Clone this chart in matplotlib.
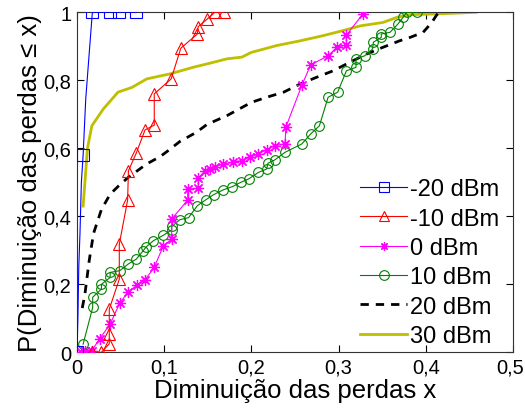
import matplotlib
matplotlib.use("Agg")
import matplotlib.pyplot as plt
from matplotlib.lines import Line2D
from matplotlib.ticker import FuncFormatter
from matplotlib.transforms import ScaledTranslation

plt.rcParams['font.family'] = ['Liberation Sans', 'DejaVu Sans']

# -20 dBm
x_m20 = [0.0, 0.001, 0.002, 0.0034, 0.005, 0.007, 0.010, 0.014, 0.0176, 0.038, 0.0485, 0.068]
y_m20 = [0.0, 0.10, 0.25, 0.35, 0.50, 0.58, 0.745, 0.88, 1.0, 1.0, 1.0, 1.0]
mk_m20 = [0, 5, 8, 9, 10, 11]

# -10 dBm
x_m10 = [0.017, 0.028, 0.037, 0.037, 0.037, 0.0485, 0.0485, 0.058, 0.059, 0.068, 0.078, 0.0886,
         0.0886, 0.108, 0.119, 0.138, 0.139, 0.149, 0.158, 0.1686]
y_m10 = [0.0, 0.0, 0.025, 0.054, 0.127, 0.215, 0.318, 0.447, 0.534, 0.586, 0.654, 0.668,
         0.76, 0.804, 0.894, 0.936, 0.958, 0.979, 1.0, 1.0]

# 0 dBm
x_0 = [0.005, 0.009, 0.017, 0.026, 0.038, 0.049, 0.059, 0.069, 0.078, 0.0886, 0.099, 0.1086,
       0.1086, 0.127, 0.127, 0.139, 0.139, 0.147, 0.152, 0.158, 0.168, 0.179, 0.189, 0.198,
       0.208, 0.2175, 0.227, 0.2385, 0.2397, 0.258, 0.268, 0.288, 0.298, 0.309, 0.309, 0.328]
y_0 = [0.0, 0.005, 0.005, 0.04, 0.083, 0.145, 0.178, 0.198, 0.213, 0.25, 0.313, 0.333,
       0.392, 0.448, 0.48, 0.482, 0.512, 0.534, 0.54, 0.545, 0.554, 0.559, 0.564, 0.573,
       0.583, 0.596, 0.608, 0.613, 0.663, 0.786, 0.845, 0.872, 0.897, 0.904, 0.933, 0.995]

# 10 dBm
x_10 = [0.007, 0.018, 0.018, 0.028, 0.028, 0.038, 0.038, 0.049, 0.059, 0.068, 0.076, 0.079,
        0.0875, 0.099, 0.1086, 0.1086, 0.118, 0.128, 0.138, 0.148, 0.157, 0.168, 0.178, 0.188,
        0.197, 0.208, 0.2175, 0.219, 0.227, 0.2385, 0.258, 0.268, 0.278, 0.288, 0.299, 0.309,
        0.32, 0.32, 0.33, 0.339, 0.34, 0.349, 0.349, 0.359, 0.368, 0.374, 0.378, 0.39]
y_10 = [0.024, 0.132, 0.162, 0.186, 0.2, 0.22, 0.235, 0.24, 0.26, 0.274, 0.299, 0.309,
        0.328, 0.344, 0.36, 0.37, 0.39, 0.396, 0.431, 0.449, 0.464, 0.478, 0.487, 0.5,
        0.51, 0.529, 0.539, 0.556, 0.566, 0.588, 0.613, 0.642, 0.666, 0.75, 0.765, 0.828,
        0.838, 0.863, 0.872, 0.892, 0.912, 0.926, 0.936, 0.941, 0.965, 0.985, 1.0, 1.0]

# 20 dBm
x_20 = [0.006, 0.009, 0.014, 0.019, 0.028, 0.038, 0.048, 0.059, 0.08, 0.095, 0.103, 0.118,
        0.137, 0.149, 0.172, 0.2, 0.2175, 0.237, 0.256, 0.275, 0.294, 0.313, 0.332, 0.351,
        0.37, 0.382, 0.397, 0.407, 0.412, 0.415]
y_20 = [0.13, 0.17, 0.27, 0.35, 0.42, 0.465, 0.49, 0.515, 0.554, 0.575, 0.59, 0.62,
        0.647, 0.67, 0.696, 0.735, 0.75, 0.765, 0.789, 0.809, 0.828, 0.853, 0.877, 0.897,
        0.916, 0.926, 0.941, 0.97, 0.99, 1.0]

# 30 dBm
x_30 = [0.007, 0.012, 0.017, 0.03, 0.047, 0.063, 0.08, 0.107, 0.133, 0.149, 0.172, 0.189,
        0.2, 0.229, 0.256, 0.282, 0.305, 0.325, 0.351, 0.367, 0.382, 0.412, 0.458]
y_30 = [0.43, 0.6, 0.666, 0.715, 0.765, 0.779, 0.804, 0.819, 0.838, 0.848, 0.863, 0.868,
        0.882, 0.902, 0.916, 0.931, 0.946, 0.96, 0.97, 0.985, 0.993, 0.995, 1.0]

labels = ['-20 dBm', '-10 dBm', '0 dBm', '10 dBm', '20 dBm', '30 dBm']
xticks = [0, 0.1, 0.2, 0.3, 0.4, 0.5]
yticks = [0, 0.2, 0.4, 0.6, 0.8, 1.0]

c_blue, c_red, c_mag, c_green, c_black, c_yel = '#0000FF', '#FF0000', '#FF00FF', '#008000', '#000000', '#BFBF00'
star = (8, 2, 0)

fig = plt.figure(figsize=(5.25, 4.14), dpi=100)
ax = fig.add_axes([0.1467, 0.1466, 0.8303, 0.8214])

ms = 7
ax.plot(x_30, y_30, color=c_yel, lw=2.0, zorder=2)
ax.plot(x_20, y_20, color=c_black, lw=2.0, dashes=(3, 2.5), zorder=2)
ax.plot(x_10, y_10, color=c_green, lw=0.8, marker='o', ms=ms, mfc='none', mew=0.8, zorder=3)
ax.plot(x_0, y_0, color=c_mag, lw=0.8, marker=star, ms=ms + 1, mew=0.9, zorder=3)
ax.plot(x_m10, y_m10, color=c_red, lw=0.8, marker='^', ms=ms + 1, mfc='none', mew=0.8, zorder=3)
ax.plot(x_m20, y_m20, color=c_blue, lw=0.8, marker='s', ms=ms + 1, mfc='none', mew=0.8,
        markevery=mk_m20, zorder=4)

handles = [
    Line2D([], [], color=c_blue, lw=0.8, marker='s', ms=ms, mfc='none', mew=0.8),
    Line2D([], [], color=c_red, lw=0.8, marker='^', ms=ms, mfc='none', mew=0.8),
    Line2D([], [], color=c_mag, lw=0.8, marker=star, ms=ms - 1, mew=0.9),
    Line2D([], [], color=c_green, lw=0.8, marker='o', ms=ms, mfc='none', mew=0.8),
    Line2D([], [], color=c_black, lw=2.0, dashes=(3, 2.5)),
    Line2D([], [], color=c_yel, lw=2.0),
]
leg = ax.legend(handles, labels, loc='lower right', bbox_to_anchor=(1.0, -0.026), frameon=False,
                fontsize=17, handlelength=2.0, handletextpad=0.1, labelspacing=0.31,
                borderaxespad=0.2, numpoints=1)

ax.set_xlim(0, 0.5)
ax.set_ylim(0, 1)
ax.set_xticks(xticks)
ax.set_yticks(yticks)
fmt = FuncFormatter(lambda v, p: ('%g' % round(v, 2)).replace('.', ','))
ax.xaxis.set_major_formatter(fmt)
ax.yaxis.set_major_formatter(fmt)
ax.tick_params(direction='in', length=5, width=0.8, labelsize=14.5, top=True, right=True, pad=4)
for s in ax.spines.values():
    s.set_linewidth(0.8)
    s.set_color('#333333')
ax.set_xlabel('Diminuição das perdas x', fontsize=18.5, labelpad=1)
ax.set_ylabel('P(Diminuição das perdas ≤ x)', fontsize=18.5, labelpad=1)

fig.canvas.draw()
last = ax.get_xticklabels()[-1]
last.set_transform(last.get_transform() + ScaledTranslation(-3 / 100, 0, fig.dpi_scale_trans))

fig.savefig('out.png', dpi=100)
